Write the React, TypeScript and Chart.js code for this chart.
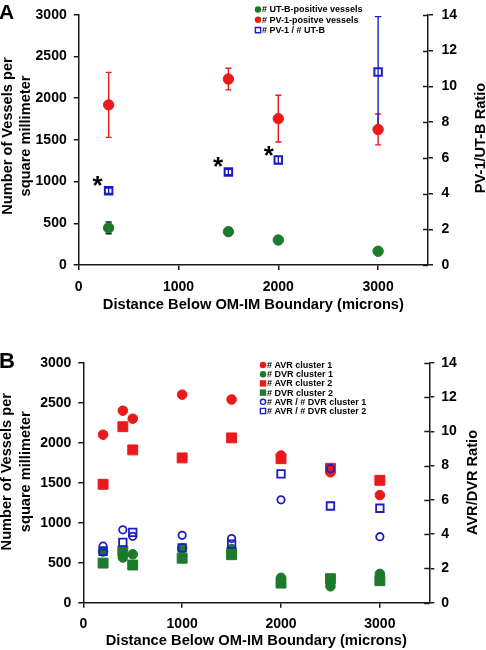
import React, { useEffect, useRef } from "react";
import { Chart, registerables } from "chart.js";
Chart.register(...registerables);

const FONT = "'Liberation Sans', Arial, Helvetica, sans-serif";

// ---------- Panel A data ----------
const aDistances = [300, 1500, 2000, 3000];
const aUtb = [445, 400, 300, 165];
const aUtbErr = [70, 0, 0, 0];
const aPv1 = [1920, 2230, 1755, 1625];
const aPv1Err = [390, 130, 280, 185];
const aRatio = [4.15, 5.2, 5.88, 10.8];
const aRatioErr = [0.15, 0.15, 0.2, 3.1];
const aStarX = [190, 1396, 1904];
const aStarY = [1008, 1229, 1369];

// ---------- Panel B data ----------
const bDistances = [200, 400, 500, 1000, 1500, 2000, 2500, 3000];
const bAvr1 = [2100, 2400, 2300, 2600, 2540, 1840, 1630, 1345];
const bDvr1 = [640, 565, 605, 680, 670, 310, 205, 360];
const bAvr2 = [1480, 2200, 1910, 1810, 2060, 1800, 1680, 1530];
const bDvr2 = [495, 645, 471, 556, 600, 245, 300, 275];
const bRatio1 = [3.3, 4.25, 3.87, 3.93, 3.74, 6.0, 7.82, 3.85];
const bRatio2 = [3.0, 3.52, 4.1, 3.2, 3.42, 7.51, 5.64, 5.51];

// ---------- Axis ticks / labels ----------
const xTicks = [0, 1000, 2000, 3000];
const xTitle = "Distance Below OM-IM Boundary (microns)";
const leftTitle = ["Number of Vessels per", "square millimeter"];
const aRightTitle = "PV-1/UT-B Ratio";
const bRightTitle = "AVR/DVR Ratio";
const aLegend = ["# UT-B-positive vessels", "# PV-1-positve vessels", "# PV-1 / # UT-B"];
const bLegend = [
  "# AVR cluster 1",
  "# DVR cluster 1",
  "# AVR cluster 2",
  "# DVR cluster 2",
  "# AVR / # DVR cluster 1",
  "# AVR / # DVR cluster 2",
];

const GREEN = "#1c7a2a";
const RED = "#ea1a1c";
const BLUE = "#1c1cc4";
const AXIS = "#1a1a1a";

const pts = (xs: number[], ys: number[]) => xs.map((x, i) => ({ x, y: ys[i] }));

const tickFont = { family: FONT, size: 14, weight: "bold" as const, lineHeight: 0.9 };

function makeScales(p: { leftW: number; rightW: number; xH: number; xTitlePad: number; lPad: number; rPad: number }) {
  return {
    x: {
      type: "linear",
      min: 0,
      max: 3500,
      afterBuildTicks: (s: any) => {
        s.ticks = xTicks.map((v) => ({ value: v }));
      },
      afterFit: (s: any) => {
        s.height = p.xH;
      },
      ticks: { font: tickFont, color: "#000", padding: 10.4, maxRotation: 0, autoSkip: false, callback: (v: any) => String(v) },
      grid: { drawOnChartArea: false, tickLength: 5, color: AXIS, lineWidth: 1.5 },
      border: { color: AXIS, width: 1.5 },
      title: {
        display: true,
        text: xTitle,
        color: "#000",
        font: { family: FONT, size: 14.7, weight: "bold" as const, lineHeight: 1.2 },
        padding: { top: 0, bottom: p.xTitlePad },
      },
    },
    y: {
      type: "linear",
      position: "left",
      min: 0,
      max: 3000,
      afterFit: (s: any) => {
        s.width = p.leftW;
      },
      ticks: { stepSize: 500, font: tickFont, color: "#000", padding: p.lPad, callback: (v: any) => String(v) },
      grid: { drawOnChartArea: false, tickLength: 5, color: AXIS, lineWidth: 1.5 },
      border: { color: AXIS, width: 1.5 },
    },
    y2: {
      type: "linear",
      position: "right",
      min: 0,
      max: 14,
      afterFit: (s: any) => {
        s.width = p.rightW;
      },
      ticks: { stepSize: 2, font: tickFont, color: "#000", padding: p.rPad, callback: (v: any) => String(v) },
      grid: { drawOnChartArea: false, tickLength: 5, color: AXIS, lineWidth: 1.5 },
      border: { color: AXIS, width: 1.5 },
    },
  };
}

type ErrSpec = { axis: string; xs: number[]; ys: number[]; errs: number[]; color: string; cap: number };

function errorBarPlugin(specs: ErrSpec[]) {
  return {
    id: "errbars",
    beforeDatasetsDraw(chart: any) {
      const ctx = chart.ctx;
      const xs = chart.scales.x;
      ctx.save();
      specs.forEach((s) => {
        const ys = chart.scales[s.axis];
        ctx.strokeStyle = s.color;
        ctx.lineWidth = 1.4;
        s.xs.forEach((xv, i) => {
          const e = s.errs[i];
          if (!e) return;
          const px = xs.getPixelForValue(xv);
          const top = ys.getPixelForValue(s.ys[i] + e);
          const bot = ys.getPixelForValue(s.ys[i] - e);
          ctx.beginPath();
          ctx.moveTo(px, top);
          ctx.lineTo(px, bot);
          ctx.moveTo(px - s.cap / 2, top);
          ctx.lineTo(px + s.cap / 2, top);
          ctx.moveTo(px - s.cap / 2, bot);
          ctx.lineTo(px + s.cap / 2, bot);
          ctx.stroke();
        });
      });
      ctx.restore();
    },
  };
}

type LegendItem = { text: string; shape: "circle" | "rect"; fill: boolean; color: string };

function drawLegend(ctx: CanvasRenderingContext2D, items: LegendItem[], x: number, y0: number, dy: number) {
  ctx.save();
  ctx.font = `bold 9px ${FONT}`;
  ctx.textBaseline = "middle";
  ctx.textAlign = "left";
  items.forEach((it, i) => {
    const y = y0 + i * dy;
    ctx.beginPath();
    if (it.shape === "circle") ctx.arc(x, y, it.fill ? 3.2 : 2.6, 0, Math.PI * 2);
    else if (it.fill) ctx.rect(x - 3.2, y - 3.2, 6.4, 6.4);
    else ctx.rect(x - 2.6, y - 2.6, 5.2, 5.2);
    if (it.fill) {
      ctx.fillStyle = it.color;
      ctx.fill();
    } else {
      ctx.strokeStyle = it.color;
      ctx.lineWidth = 1.4;
      ctx.stroke();
    }
    ctx.fillStyle = "#000";
    ctx.fillText(it.text, x + 4, y + 0.5);
  });
  ctx.restore();
}

function drawRotated(ctx: CanvasRenderingContext2D, text: string, x: number, y: number) {
  ctx.save();
  ctx.translate(x, y);
  ctx.rotate(-Math.PI / 2);
  ctx.font = `bold 14.6px ${FONT}`;
  ctx.textAlign = "center";
  ctx.textBaseline = "middle";
  ctx.fillStyle = "#000";
  ctx.fillText(text, 0, 0);
  ctx.restore();
}

function decorPlugin(d: {
  letter: string;
  letterSize: number;
  letterY: number;
  legend: LegendItem[];
  legendX: number;
  legendY: number;
  legendDy: number;
  leftX: [number, number];
  leftY: number;
  rightTitle: string;
  rightX: number;
  rightY: number;
  stars?: { xs: number[]; ys: number[] };
}) {
  return {
    id: "decor",
    afterDraw(chart: any) {
      const ctx: CanvasRenderingContext2D = chart.ctx;
      ctx.save();
      // panel letter
      ctx.font = `bold ${d.letterSize}px ${FONT}`;
      ctx.fillStyle = "#000";
      ctx.textAlign = "left";
      ctx.textBaseline = "alphabetic";
      ctx.fillText(d.letter, -1, d.letterY);
      // inner half of right-axis ticks
      const r = chart.scales.y2;
      ctx.strokeStyle = AXIS;
      ctx.lineWidth = 1.5;
      r.ticks.forEach((t: any) => {
        const py = Math.round(r.getPixelForValue(t.value)) + 0.5;
        ctx.beginPath();
        ctx.moveTo(r.left - 5, py);
        ctx.lineTo(r.left, py);
        ctx.stroke();
      });
      ctx.restore();
      // titles
      drawRotated(ctx, leftTitle[0], d.leftX[0], d.leftY);
      drawRotated(ctx, leftTitle[1], d.leftX[1], d.leftY);
      drawRotated(ctx, d.rightTitle, d.rightX, d.rightY);
      // legend
      drawLegend(ctx, d.legend, d.legendX, d.legendY, d.legendDy);
      // asterisks
      if (d.stars) {
        const xs = chart.scales.x;
        const ys = chart.scales.y;
        ctx.save();
        ctx.font = `bold 26px ${FONT}`;
        ctx.fillStyle = "#000";
        ctx.textAlign = "center";
        ctx.textBaseline = "middle";
        d.stars.xs.forEach((sx, i) => {
          ctx.fillText("*", xs.getPixelForValue(sx), ys.getPixelForValue(d.stars!.ys[i]) + 0.22 * 26);
        });
        ctx.restore();
      }
    },
  };
}

function buildA(): any {
  return {
    type: "scatter",
    data: {
      datasets: [
        {
          label: aLegend[2],
          data: pts(aDistances, aRatio),
          yAxisID: "y2",
          pointStyle: "rect",
          pointRadius: 5.3,
          borderColor: BLUE,
          backgroundColor: "rgba(0,0,0,0)",
          borderWidth: 2,
          pointBorderWidth: 2,
          order: 0,
        },
        {
          label: aLegend[1],
          data: pts(aDistances, aPv1),
          yAxisID: "y",
          pointStyle: "circle",
          pointRadius: 5.2,
          backgroundColor: RED,
          borderColor: RED,
          borderWidth: 1,
          order: 1,
        },
        {
          label: aLegend[0],
          data: pts(aDistances, aUtb),
          yAxisID: "y",
          pointStyle: "circle",
          pointRadius: 5.2,
          backgroundColor: GREEN,
          borderColor: GREEN,
          borderWidth: 1,
          order: 2,
        },
      ],
    },
    options: {
      responsive: false,
      animation: false,
      devicePixelRatio: 1,
      layout: { padding: { top: 6.7, left: 0, right: 0, bottom: 0 } },
      plugins: { legend: { display: false }, tooltip: { enabled: false } },
      scales: makeScales({ leftW: 78.7, rightW: 58, xH: 60, xTitlePad: 11.5, lPad: 7, rPad: 8.5 }),
    },
    plugins: [
      errorBarPlugin([
        { axis: "y", xs: aDistances, ys: aPv1, errs: aPv1Err, color: RED, cap: 6 },
        { axis: "y", xs: aDistances, ys: aUtb, errs: aUtbErr, color: "#111", cap: 6 },
        { axis: "y2", xs: aDistances, ys: aRatio, errs: aRatioErr, color: BLUE, cap: 6.5 },
      ]),
      decorPlugin({
        letter: "A",
        letterSize: 21,
        letterY: 19,
        legend: [
          { text: aLegend[0], shape: "circle", fill: true, color: GREEN },
          { text: aLegend[1], shape: "circle", fill: true, color: RED },
          { text: aLegend[2], shape: "rect", fill: false, color: BLUE },
        ],
        legendX: 258,
        legendY: 9.5,
        legendDy: 10.3,
        leftX: [7.5, 26],
        leftY: 136,
        rightTitle: aRightTitle,
        rightX: 480.5,
        rightY: 138,
        stars: { xs: aStarX, ys: aStarY },
      }),
    ],
  };
}

function buildB(): any {
  const mk = (label: string, ys: number[], axis: string, style: string, r: number, color: string, fill: boolean, order: number) => ({
    label,
    data: pts(bDistances, ys),
    yAxisID: axis,
    pointStyle: style,
    pointRadius: r,
    backgroundColor: fill ? color : "rgba(0,0,0,0)",
    borderColor: color,
    borderWidth: fill ? 1 : 1.8,
    pointBorderWidth: fill ? 1 : 1.8,
    order,
  });
  return {
    type: "scatter",
    data: {
      datasets: [
        mk(bLegend[0], bAvr1, "y", "circle", 4.8, RED, true, 2),
        mk(bLegend[1], bDvr1, "y", "circle", 4.8, GREEN, true, 3),
        mk(bLegend[2], bAvr2, "y", "rect", 7, RED, true, 4),
        mk(bLegend[3], bDvr2, "y", "rect", 7, GREEN, true, 5),
        mk(bLegend[4], bRatio1, "y2", "circle", 3.7, BLUE, false, 1),
        mk(bLegend[5], bRatio2, "y2", "rect", 5.3, BLUE, false, 0),
      ],
    },
    options: {
      responsive: false,
      animation: false,
      devicePixelRatio: 1,
      layout: { padding: { top: 37.7, left: 0, right: 0, bottom: 0 } },
      plugins: { legend: { display: false }, tooltip: { enabled: false } },
      scales: makeScales({ leftW: 83.3, rightW: 56.7, xH: 47.3, xTitlePad: 0, lPad: 7, rPad: 7 }),
    },
    plugins: [
      decorPlugin({
        letter: "B",
        letterSize: 22,
        letterY: 43.3,
        legend: [
          { text: bLegend[0], shape: "circle", fill: true, color: RED },
          { text: bLegend[1], shape: "circle", fill: true, color: GREEN },
          { text: bLegend[2], shape: "rect", fill: true, color: RED },
          { text: bLegend[3], shape: "rect", fill: true, color: GREEN },
          { text: bLegend[4], shape: "circle", fill: false, color: BLUE },
          { text: bLegend[5], shape: "rect", fill: false, color: BLUE },
        ],
        legendX: 263,
        legendY: 40,
        legendDy: 9.2,
        leftX: [6.5, 26],
        leftY: 146.7,
        rightTitle: bRightTitle,
        rightX: 472.5,
        rightY: 157.5,
      }),
    ],
  };
}

export default function App() {
  const refA = useRef<HTMLCanvasElement>(null);
  const refB = useRef<HTMLCanvasElement>(null);
  useEffect(() => {
    const a = new Chart(refA.current as HTMLCanvasElement, buildA());
    const b = new Chart(refB.current as HTMLCanvasElement, buildB());
    return () => {
      a.destroy();
      b.destroy();
    };
  }, []);
  return (
    <div style={{ position: "absolute", left: 0, top: 0, width: 486, height: 650, background: "#fff" }}>
      <canvas ref={refA} width={486} height={325} style={{ position: "absolute", left: 0, top: 0, width: 486, height: 325 }} />
      <canvas ref={refB} width={486} height={325} style={{ position: "absolute", left: 0, top: 325, width: 486, height: 325 }} />
    </div>
  );
}
